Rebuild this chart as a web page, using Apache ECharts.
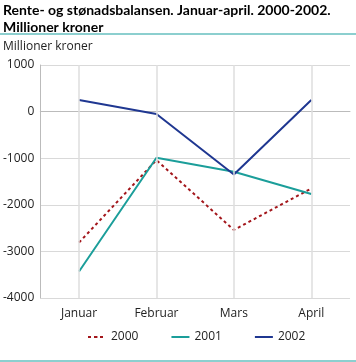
<!DOCTYPE html>
<html><head><meta charset="utf-8">
<script src="https://cdn.jsdelivr.net/npm/echarts@6/dist/echarts.min.js"></script>
<style>html,body{margin:0;padding:0;background:#fff}#c{width:356px;height:362px}</style>
</head><body><div id="c"></div>
<script>
const categories = ['Januar', 'Februar', 'Mars', 'April'];
const s2000 = [-2810, -1040, -2540, -1650];
const s2001 = [-3430, -990, -1290, -1770];
const s2002 = [250, -50, -1350, 250];
const yTicks = [1000, 0, -1000, -2000, -3000, -4000];

const font = '"Open Sans", "Noto Sans", sans-serif';
const chart = echarts.init(document.getElementById('c'));
chart.setOption({
  animation: false,
  textStyle: { fontFamily: font },
  graphic: [
    { type: 'text', left: 3, top: 2, style: { text: 'Rente- og stønadsbalansen. Januar-april. 2000-2002.\nMillioner kroner', font: 'bold 14px Lato, sans-serif', fill: '#000', lineHeight: 17 } },
    { type: 'rect', shape: { x: 0, y: 33, width: 356, height: 2 }, style: { fill: '#8ccfcf' } },
    { type: 'text', left: 3, top: 41, style: { text: 'Millioner kroner', font: '12px ' + font, fill: '#222' } },
    { type: 'rect', shape: { x: 0, y: 360, width: 356, height: 2 }, style: { fill: '#8ccfcf' } }
  ],
  grid: { left: 38, top: 65, width: 312, height: 233 },
  legend: {
    bottom: 14, left: 82, itemWidth: 18, itemHeight: 2, itemGap: 32,
    textStyle: { fontSize: 12, color: '#222', fontFamily: font },
    data: ['2000', '2001', '2002']
  },
  xAxis: {
    type: 'category', data: categories, boundaryGap: true,
    axisLine: { lineStyle: { color: '#bbb' } },
    axisTick: { show: false },
    axisLabel: { color: '#222', fontSize: 12, margin: 10 },
    splitLine: { show: false }
  },
  yAxis: {
    type: 'value', min: -4000, max: 1000, interval: 1000,
    axisLine: { show: true, lineStyle: { color: '#bbb' } },
    axisTick: { show: false },
    axisLabel: { color: '#222', fontSize: 12, margin: 6, formatter: v => String(v) },
    splitLine: { lineStyle: { color: '#d9d9d9' } }
  },
  series: [
    { name: 'grid', type: 'line', data: [], z: 1, silent: true,
      markLine: { silent: true, symbol: 'none', label: { show: false }, lineStyle: { color: '#dedede', width: 1.5, type: 'solid' },
        data: categories.map(c => ({ xAxis: c })) } },
    { name: '2000', type: 'line', z: 3, data: s2000, symbol: 'none', lineStyle: { color: '#a3161b', width: 2, type: [3, 3] }, itemStyle: { color: '#a3161b' } },
    { name: '2001', type: 'line', z: 3, data: s2001, symbol: 'none', lineStyle: { color: '#1b9e9a', width: 2 }, itemStyle: { color: '#1b9e9a' } },
    { name: '2002', type: 'line', z: 3, data: s2002, symbol: 'none', lineStyle: { color: '#1f3791', width: 2 }, itemStyle: { color: '#1f3791' } }
  ]
});
</script></body></html>
